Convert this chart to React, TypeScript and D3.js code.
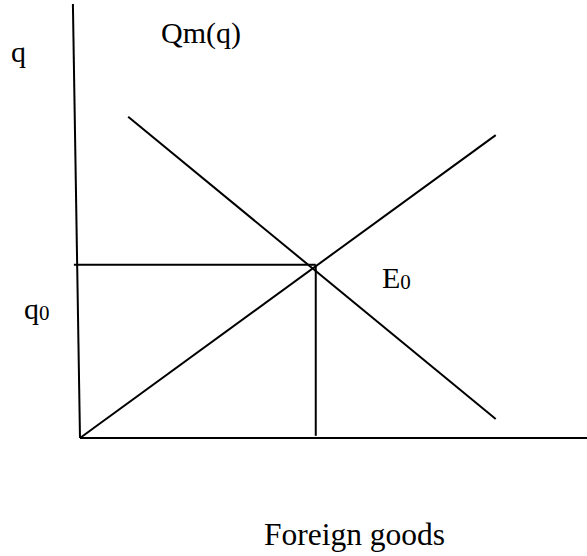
import React from "react";
import * as d3 from "d3";

const W = 587;
const H = 556;

// Diagram segments in abstract data units (x: foreign goods, y: q)
const axisY = [[-1.4, 100], [0, 0]];
const axisX = [[0, 0], [100, 0]];
const supplyLine = [[0, 0], [82.0, 69.8]];
const demandLine = [[9.5, 74.0], [82.0, 4.4]];
const q0Line = [[-1.2, 39.9], [46.5, 39.9]];
const eqDrop = [[46.5, 39.9], [46.5, 0.5]];

const labels = ["q", "Qm(q)", "q", "E", "Foreign goods"];
const SERIF = "Liberation Serif";

export default function App() {
  const x = d3.scaleLinear().domain([0, 100]).range([80, 587]);
  const y = d3.scaleLinear().domain([0, 100]).range([438, 4]);
  const line = d3
    .line<number[]>()
    .x((d) => x(d[0]))
    .y((d) => y(d[1]));

  const ts = { fontFamily: `"${SERIF}"` };
  return (
    <svg width={W} height={H} style={{ position: "absolute", left: 0, top: 0, fontFamily: `"${SERIF}"` }}>
      <path d={line(axisY as any) || ""} stroke="#000" strokeWidth={2} fill="none" />
      <path d={line(axisX as any) || ""} stroke="#000" strokeWidth={2} fill="none" />
      <path d={line(supplyLine as any) || ""} stroke="#000" strokeWidth={2} fill="none" />
      <path d={line(demandLine as any) || ""} stroke="#000" strokeWidth={2} fill="none" />
      <path d={line(q0Line as any) || ""} stroke="#000" strokeWidth={2} fill="none" />
      <path d={line(eqDrop as any) || ""} stroke="#000" strokeWidth={2} fill="none" />
      <text x={11} y={62} fontSize={30} style={ts}>{labels[0]}</text>
      <text x={161} y={43} fontSize={30} style={ts}>{labels[1]}</text>
      <text x={24} y={319} fontSize={30} style={ts}>
        {labels[2]}
        <tspan fontSize={21} dy={1} style={ts}>0</tspan>
      </text>
      <text x={382} y={288} fontSize={30} style={ts}>
        {labels[3]}
        <tspan fontSize={21} dy={1} style={ts}>0</tspan>
      </text>
      <text x={264} y={545} fontSize={31.5} style={ts}>{labels[4]}</text>
    </svg>
  );
}
